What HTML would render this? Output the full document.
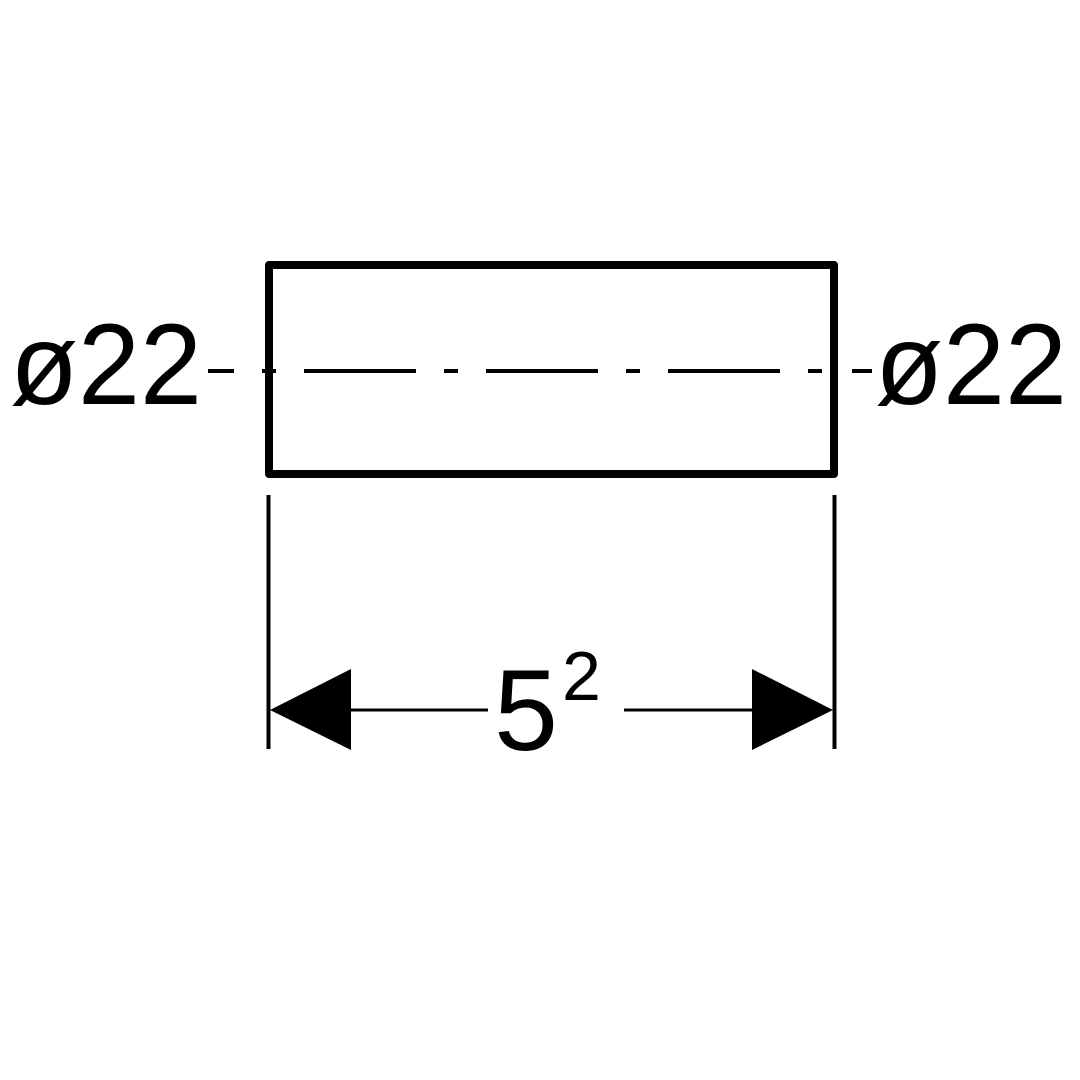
<!DOCTYPE html>
<html><head><meta charset="utf-8"><style>html,body{margin:0;padding:0;background:#fff}svg{display:block}</style></head>
<body>
<svg width="1080" height="1080" viewBox="0 0 1080 1080" xmlns="http://www.w3.org/2000/svg">
<rect x="0" y="0" width="1080" height="1080" fill="#fff"/>
<rect x="269" y="265" width="565" height="209" fill="none" stroke="#000" stroke-width="8" stroke-linejoin="round"/>
<g stroke="#000" stroke-width="4">
<line x1="208" y1="371" x2="234" y2="371"/>
<line x1="262" y1="371" x2="276" y2="371"/>
<line x1="304" y1="371" x2="416" y2="371"/>
<line x1="444" y1="371" x2="458" y2="371"/>
<line x1="486" y1="371" x2="598" y2="371"/>
<line x1="626" y1="371" x2="640" y2="371"/>
<line x1="668" y1="371" x2="780" y2="371"/>
<line x1="808" y1="371" x2="822" y2="371"/>
<line x1="852" y1="371" x2="872" y2="371"/>
<line x1="268.5" y1="495" x2="268.5" y2="749"/>
<line x1="834.5" y1="495" x2="834.5" y2="749"/>
</g>
<g stroke="#000" stroke-width="3">
<line x1="350" y1="710" x2="488" y2="710"/>
<line x1="624" y1="710" x2="754" y2="710"/>
</g>
<polygon points="270,710 351,669 351,750" fill="#000"/>
<polygon points="833,710 752,669 752,750" fill="#000"/>
<g font-family="Liberation Sans, Arial, sans-serif" fill="#000">
<text x="10" y="404" font-size="115" textLength="192" lengthAdjust="spacingAndGlyphs">ø22</text>
<text x="875" y="404" font-size="115" textLength="192" lengthAdjust="spacingAndGlyphs">ø22</text>
<text x="494" y="750" font-size="115">5</text>
<text x="562" y="700" font-size="70">2</text>
</g>
</svg>
</body></html>
